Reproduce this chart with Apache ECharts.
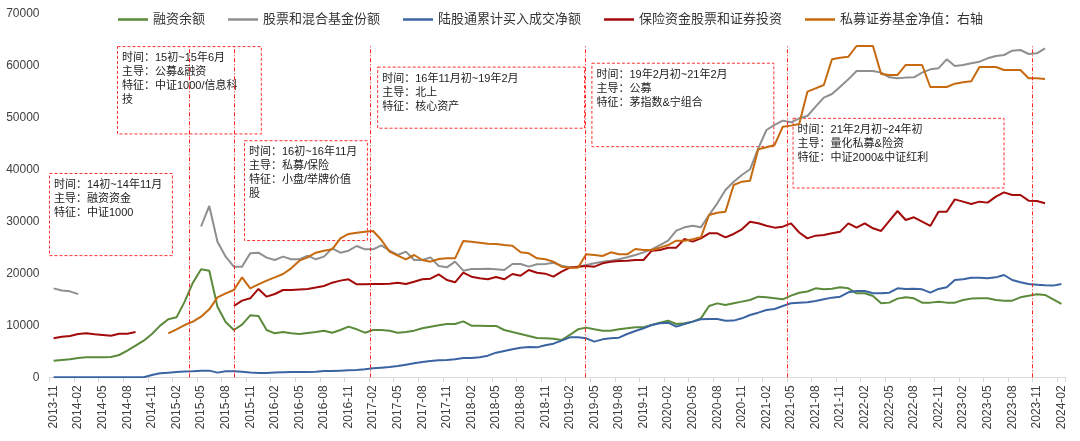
<!DOCTYPE html>
<html>
<head>
<meta charset="utf-8">
<title>资金结构变化</title>
<script src="https://cdn.jsdelivr.net/npm/echarts/dist/echarts.min.js"></script>
<style>
    html, body { margin: 0; padding: 0; background: #fff; }
    #main { width: 1080px; height: 441px; }
</style>
</head>
<body>
<div id="main"></div>
<script>
// 横轴月份：2013-11 ~ 2024-02
let months = [];
for (let y = 2013, m = 11; y < 2024 || (y === 2024 && m <= 2); m++) {
    if (m > 12) { m = 1; y++; }
    if (y === 2024 && m > 2) break;
    months.push(y + '-' + (m < 10 ? '0' + m : m));
}

let seriesNames = ['融资余额', '股票和混合基金份额', '陆股通累计买入成交净额', '保险资金股票和证券投资', '私募证券基金净值：右轴'];

// 融资余额
let marginData = [
    3200, 3330, 3450, 3700, 3840, 3840, 3840, 3900, 4290, 5120,
    6080, 7040, 8330, 9930, 11150, 11530, 14550, 18200, 20760, 20500,
    13580, 10630, 9100, 10120, 11920, 11790, 9100, 8450, 8710, 8450,
    8330, 8520, 8710, 8970, 8580, 9100, 9740, 9230, 8580, 9100,
    9100, 8970, 8580, 8710, 8970, 9420, 9740, 9990, 10250, 10250,
    10760, 9930, 9930, 9870, 9870, 9100, 8710, 8330, 7940, 7560,
    7490, 7400, 7170, 8140, 9230, 9550, 9230, 8970, 8970, 9230,
    9420, 9610, 9610, 10060, 10510, 10890, 10250, 10380, 10700, 11340,
    13710, 14220, 13900, 14230, 14550, 14870, 15510, 15380, 15190, 15000,
    15700, 16250, 16500, 17110, 16920, 17050, 17300, 17110, 16150, 16150,
    15640, 14230, 14360, 15130, 15380, 15190, 14360, 14360, 14550, 14360,
    14360, 14870, 15130, 15190, 15190, 14870, 14740, 14740, 15380, 15700,
    15960, 15830, 15000, 14100
];

// 股票和混合基金份额
let fundShareData = [
    17100, 16700, 16530, 16000, null, null, null, null, null, null,
    null, null, null, null, null, null, null, null, 29000, 32950,
    26080, 23200, 21280, 21280, 23840, 23970, 23010, 22560, 23200, 22690,
    22690, 23400, 22690, 23200, 24800, 23970, 24350, 25250, 24610, 24610,
    25380, 24350, 23520, 24160, 22560, 22560, 23070, 21410, 21150, 22240,
    20500, 20820, 20820, 20890, 20760, 20630, 21790, 21790, 21280, 21730,
    21790, 22040, 21470, 21150, 21280, 21600, 21920, 22240, 22430, 22690,
    23070, 23520, 24030, 24610, 25440, 26280, 28200, 28840, 29160, 28840,
    31210, 33460, 36020, 37620, 38910, 40000, 44040, 47560, 48530, 49360,
    49040, 49810, 50250, 52040, 53770, 54480, 55890, 57300, 58910, 58910,
    58910, 58590, 57690, 57500, 57630, 57690, 58590, 59220, 59420, 61150,
    59870, 60060, 60380, 60700, 61340, 61790, 61980, 62810, 62940, 62170,
    62300, 63260, null, null
];

// 陆股通累计买入成交净额
let northboundData = [
    0, 0, 0, 0, 0, 0, 0, 0, 0, 0,
    0, 0, 450, 760, 890, 1000, 1100, 1150, 1250, 1280,
    900, 1150, 1150, 1050, 900, 850, 850, 900, 950, 1000,
    1000, 1020, 1080, 1210, 1210, 1280, 1340, 1400, 1530, 1720,
    1850, 1980, 2170, 2430, 2690, 2940, 3140, 3260, 3330, 3450,
    3710, 3710, 3840, 4160, 4740, 5060, 5380, 5700, 5830, 5760,
    6150, 6470, 7050, 7690, 7690, 7490, 6860, 7300, 7490, 7620,
    8330, 8900, 9420, 10060, 10380, 10510, 9740, 10250, 10700, 11150,
    11210, 11210, 10890, 10900, 11340, 11990, 12430, 12940, 13140, 13710,
    14230, 14350, 14450, 14680, 15000, 15320, 15510, 16340, 16600, 16600,
    16150, 16150, 16280, 17110, 16990, 17050, 16920, 16280, 16990, 17300,
    18710, 18840, 19160, 19160, 19030, 19220, 19670, 18710, 18270, 17950,
    17820, 17690, 17630, 17950
];

// 保险资金股票和证券投资
let insuranceData = [
    7490, 7810, 7940, 8330, 8450, 8260, 8140, 8000, 8390, 8390,
    8710, null, null, null, null, null, null, null, null, null,
    null, null, 13710, 14740, 15190, 16990, 15510, 16020, 16790, 16790,
    16900, 17000, 17250, 17560, 18200, 18590, 18840, 17880, 17880, 17940,
    17940, 18010, 18200, 17940, 18390, 18840, 18970, 19800, 18710, 18270,
    20120, 19350, 19030, 18840, 19290, 18840, 19870, 19540, 20630, 20120,
    19930, 19350, 20310, 21080, 21280, 21400, 21280, 21920, 22240, 22370,
    22430, 22560, 22560, 24350, 24480, 24930, 24930, 26600, 26090, 26730,
    27690, 27690, 26920, 27560, 28460, 29930, 29610, 29160, 28780, 28970,
    29610, 27850, 26720, 27240, 27370, 27690, 28010, 29610, 28780, 29610,
    28650, 28140, 30060, 31980, 30250, 30770, 29930, 29100, 31850, 31850,
    34220, 33780, 33330, 33780, 33590, 34740, 35570, 35060, 35060, 33970,
    33910, 33460, null, null
];

// 私募证券基金净值（右轴）
let privateFundData = [
    null, null, null, null, null, null, null, null, null, null,
    null, null, null, null, 8450, 9220, 10050, 10700, 11650, 13070,
    15380, 16150, 16790, 19220, 17110, 17880, 18590, 19220, 19860, 20960,
    22430, 23070, 23970, 24350, 24610, 26730, 27560, 27810, 28010, 28130,
    26410, 24170, 23400, 22690, 23520, 22560, 22240, 22750, 22880, 22880,
    26210, 26080, 25890, 25700, 25630, 25440, 25310, 24030, 23840, 22880,
    22690, 22240, 21280, 21080, 21080, 23650, 23520, 23330, 24030, 23650,
    23650, 24670, 24480, 24480, 24930, 25440, 26280, 26280, 26530, 26920,
    31210, 31660, 31850, 36980, 37620, 37820, 43840, 44230, 44680, 48200,
    48400, 48720, 54930, 55570, 56210, 61150, 61470, 61660, 63710, 63710,
    63710, 58330, 58140, 58140, 60060, 60060, 60060, 55830, 55830, 55830,
    56470, 56730, 56920, 59680, 59680, 59680, 59100, 59100, 59100, 57500,
    57500, 57370, null, null
];

// 阶段说明文字
let stageTexts = [
    '时间：14初~14年11月\n主导：融资资金\n特征：中证1000',
    '时间：15初~15年6月\n主导：公募&融资\n特征：中证1000/信息科\n技',
    '时间：16初~16年11月\n主导：私募/保险\n特征：小盘/举牌价值\n股',
    '时间：16年11月初~19年2月\n主导：北上\n特征：核心资产',
    '时间：19年2月初~21年2月\n主导：公募\n特征：茅指数&宁组合',
    '时间：21年2月初~24年初\n主导：量化私募&险资\n特征：中证2000&中证红利'
];

// 标注框与分隔线的位置（月序号, 左轴数值）
let stageBoxes = [
    [[-0.6, 39200], [14.5, 23400]],
    [[7.8, 63600], [25.35, 46800]],
    [[23.3, 45500], [38.3, 26300]],
    [[39.55, 59650], [64.8, 47900]],
    [[65.7, 60400], [87.9, 44350]],
    [[90.25, 49800], [116, 36400]]
];
let dividerPos = [16.5, 22.1, 38.6, 64.85, 89.5, 119.4];

let colors = ['#5a8a3a', '#8f8f8f', '#3b64a3', '#a30a0a', '#c6690f'];
let baseFont = '"Liberation Sans", "Noto Sans CJK SC", sans-serif';

let myChart = echarts.init(document.getElementById('main'));

let lineSeries = [marginData, fundShareData, northboundData, insuranceData, privateFundData].map(function (data, idx) {
    return {
        name: seriesNames[idx],
        type: 'line',
        yAxisIndex: idx === 4 ? 1 : 0,
        data: data,
        symbol: 'none',
        connectNulls: false,
        lineStyle: { width: 2, color: colors[idx] },
        itemStyle: { color: colors[idx] },
        z: 3
    };
});

// 辅助系列：分隔线 + 阶段框
lineSeries.push({
    name: 'annot',
    type: 'line',
    xAxisIndex: 1,
    yAxisIndex: 0,
    data: [],
    silent: true,
    markLine: {
        silent: true,
        symbol: 'none',
        label: { show: false },
        lineStyle: { color: '#ff2020', width: 1, type: [4, 2, 1, 2] },
        data: dividerPos.map(function (x) {
            return [{ coord: [x, 0] }, { coord: [x, 64000] }];
        })
    },
    markArea: {
        silent: true,
        data: stageBoxes.map(function (b, k) {
            return [{
                coord: b[0],
                itemStyle: {
                    color: 'rgba(0,0,0,0)',
                    borderColor: '#ff3030',
                    borderWidth: 1,
                    borderType: [3, 2]
                },
                label: {
                    show: true,
                    position: 'insideTopLeft',
                    distance: 5,
                    formatter: stageTexts[k],
                    color: '#222',
                    fontSize: 11,
                    lineHeight: 14,
                    fontFamily: baseFont
                }
            }, { coord: b[1] }];
        })
    }
});

let option = {
    animation: false,
    backgroundColor: '#fff',
    color: colors,
    textStyle: { fontFamily: baseFont },
    legend: {
        data: seriesNames,
        left: 113,
        top: 8,
        icon: 'rect',
        itemWidth: 30,
        itemHeight: 2.5,
        itemGap: 23,
        textStyle: { fontSize: 13, color: '#333', fontFamily: baseFont }
    },
    grid: {
        left: 49.5,
        right: 14.5,
        top: 13.3,
        bottom: 63.7
    },
    xAxis: [{
        type: 'category',
        data: months,
        boundaryGap: true,
        axisLine: { lineStyle: { color: '#d9d9d9', width: 1 } },
        axisTick: { show: true, interval: 2, length: 5, lineStyle: { color: '#d9d9d9' } },
        axisLabel: {
            interval: 2,
            rotate: 90,
            margin: 8,
            fontSize: 12,
            color: '#404040',
            fontFamily: baseFont
        },
        splitLine: { show: false }
    }, {
        type: 'value',
        min: -0.5,
        max: 123.5,
        show: false
    }],
    yAxis: [{
        type: 'value',
        min: 0,
        max: 70000,
        interval: 10000,
        axisLine: { show: false },
        axisTick: { show: false },
        splitLine: { show: false },
        axisLabel: {
            margin: 10,
            fontSize: 12,
            color: '#404040',
            fontFamily: baseFont,
            formatter: function (v) { return String(v); }
        }
    }, {
        type: 'value',
        min: 0,
        max: 70000,
        interval: 10000,
        show: false
    }],
    series: lineSeries
};

myChart.setOption(option);
</script>
</body>
</html>
